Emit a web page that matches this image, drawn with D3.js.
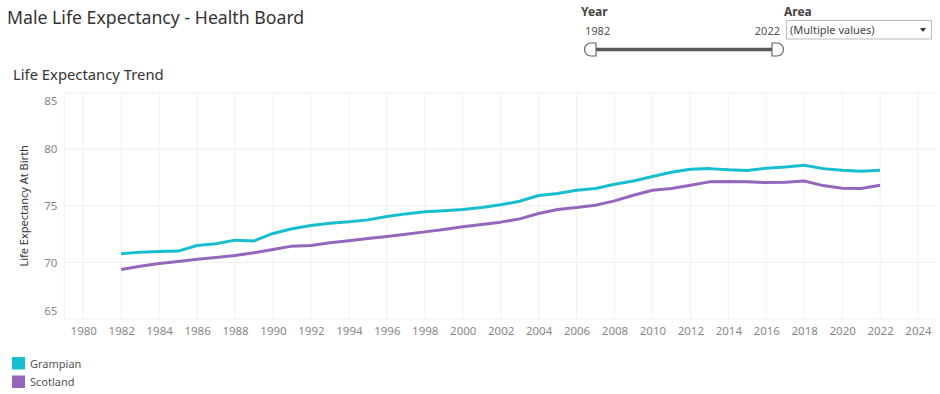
<!DOCTYPE html>
<html>
<head>
<meta charset="utf-8">
<script src="https://cdn.jsdelivr.net/npm/d3@7"></script>
<style>
  html, body { margin: 0; padding: 0; background: #fff; }
  svg { display: block; }
  text { font-family: "Noto Sans", "Open Sans", sans-serif; }
</style>
</head>
<body>
<svg id="chart" width="940" height="394"></svg>
<script>
// ---- data ----
const years = d3.range(1982, 2023);
const grampian = [70.76, 70.91, 70.97, 71.0, 71.5, 71.65, 71.97, 71.9, 72.56, 72.97,
  73.26, 73.47, 73.59, 73.76, 74.06, 74.29, 74.47, 74.56, 74.68, 74.85,
  75.09, 75.41, 75.91, 76.09, 76.38, 76.53, 76.91, 77.2, 77.59, 77.97,
  78.24, 78.29, 78.18, 78.12, 78.33, 78.44, 78.59, 78.29, 78.15, 78.06, 78.15];
const scotland = [69.38, 69.67, 69.91, 70.09, 70.29, 70.44, 70.62, 70.85, 71.15, 71.44,
  71.5, 71.73, 71.91, 72.11, 72.29, 72.5, 72.7, 72.91, 73.15, 73.35,
  73.56, 73.85, 74.32, 74.68, 74.85, 75.06, 75.44, 75.94, 76.38, 76.53,
  76.82, 77.12, 77.15, 77.12, 77.06, 77.09, 77.2, 76.79, 76.56, 76.53, 76.82];
const seriesNames = ["Grampian", "Scotland"];
const seriesColors = ["#17becf", "#9467bd"];
const xTicks = d3.range(1980, 2025, 2);
const yTicks = [65, 70, 75, 80, 85];
const yearRange = [1982, 2022];

const svg = d3.select("#chart");

// titles
svg.append("text").attr("x", 7).attr("y", 24)
  .attr("font-size", 17.7).attr("fill", "#333")
  .text("Male Life Expectancy - Health Board");
svg.append("text").attr("x", 13).attr("y", 80)
  .attr("font-size", 14.8).attr("fill", "#333")
  .text("Life Expectancy Trend");

// scales
const x = d3.scaleLinear().domain([1979, 2025]).range([64.3, 937]);
const y = d3.scaleLinear().domain([65, 85]).range([319, 92.7]);

// gridlines
const g = svg.append("g");
g.selectAll("line.vg").data(xTicks).join("line")
  .attr("x1", d => x(d)).attr("x2", d => x(d))
  .attr("y1", y(85)).attr("y2", y(65))
  .attr("stroke", "#f0f0f0").attr("stroke-width", 1);
g.selectAll("line.hg").data(yTicks).join("line")
  .attr("x1", x(1979)).attr("x2", x(2025))
  .attr("y1", d => y(d)).attr("y2", d => y(d))
  .attr("stroke", "#f0f0f0").attr("stroke-width", 1);
g.append("line").attr("x1", x(1979)).attr("x2", x(1979))
  .attr("y1", y(85)).attr("y2", y(65)).attr("stroke", "#f0f0f0");

// axes
const yAxis = svg.append("g").attr("transform", `translate(${x(1979)},0)`)
  .call(d3.axisLeft(y).tickValues(yTicks).tickSize(0).tickPadding(7));
yAxis.select(".domain").remove();
yAxis.selectAll("text").attr("font-size", 11.5).attr("fill", "#888")
  .attr("font-family", "'Noto Sans', sans-serif")
  .attr("dy", d => d === 85 ? "1.05em" : d === 65 ? "-0.4em" : "0.32em");

const xAxis = svg.append("g").attr("transform", `translate(0,${y(65)})`)
  .call(d3.axisBottom(x).tickValues(xTicks).tickFormat(d3.format("d")).tickSize(0).tickPadding(8));
xAxis.select(".domain").remove();
xAxis.selectAll("text").attr("font-size", 11.5).attr("fill", "#888")
  .attr("font-family", "'Noto Sans', sans-serif");

svg.append("text")
  .attr("transform", `translate(28,${y(75)}) rotate(-90)`)
  .attr("text-anchor", "middle").attr("font-size", 11).attr("fill", "#333")
  .text("Life Expectancy At Birth");

// lines
const line = d3.line().x((d, i) => x(years[i])).y(d => y(d));
[grampian, scotland].forEach((s, k) => {
  svg.append("path").datum(s)
    .attr("fill", "none").attr("stroke", seriesColors[k])
    .attr("stroke-width", 3).attr("stroke-linejoin", "round")
    .attr("d", line);
});

// legend
const leg = svg.append("g");
seriesNames.forEach((n, k) => {
  leg.append("rect").attr("x", 12).attr("y", 357 + k * 18.5)
    .attr("width", 13).attr("height", 12.5).attr("fill", seriesColors[k]);
  leg.append("text").attr("x", 30).attr("y", 367.5 + k * 18.5)
    .attr("font-size", 11).attr("fill", "#555").text(n);
});

// Year slider
svg.append("text").attr("x", 581).attr("y", 16).attr("font-size", 12)
  .attr("font-weight", "bold").attr("fill", "#444").text("Year");
svg.append("text").attr("x", 585).attr("y", 35).attr("font-size", 11)
  .attr("fill", "#555").text(yearRange[0]);
svg.append("text").attr("x", 780).attr("y", 35).attr("font-size", 11)
  .attr("text-anchor", "end").attr("fill", "#555").text(yearRange[1]);
const sx = d3.scaleLinear().domain(yearRange).range([591, 777]);
svg.append("line").attr("x1", sx(yearRange[0])).attr("x2", sx(yearRange[1]))
  .attr("y1", 49.5).attr("y2", 49.5).attr("stroke", "#5a5a5a").attr("stroke-width", 3.5);
// left handle (rounded left, flat right)
const r = 6.5;
svg.append("path")
  .attr("d", `M${sx(yearRange[0]) + 5},${49.5 - r} L${sx(yearRange[0])},${49.5 - r} A${r},${r} 0 0 0 ${sx(yearRange[0])},${49.5 + r} L${sx(yearRange[0]) + 5},${49.5 + r} Z`)
  .attr("fill", "#fff").attr("stroke", "#666").attr("stroke-width", 1.2);
svg.append("path")
  .attr("d", `M${sx(yearRange[1]) - 5},${49.5 - r} L${sx(yearRange[1])},${49.5 - r} A${r},${r} 0 0 1 ${sx(yearRange[1])},${49.5 + r} L${sx(yearRange[1]) - 5},${49.5 + r} Z`)
  .attr("fill", "#fff").attr("stroke", "#666").attr("stroke-width", 1.2);

// Area dropdown
svg.append("text").attr("x", 784).attr("y", 16).attr("font-size", 12)
  .attr("font-weight", "bold").attr("fill", "#444").text("Area");
svg.append("rect").attr("x", 786.5).attr("y", 20.5).attr("width", 145).attr("height", 18.5)
  .attr("fill", "#fff").attr("stroke", "#bbb");
svg.append("text").attr("x", 790).attr("y", 34).attr("font-size", 11)
  .attr("fill", "#444").text("(Multiple values)");
svg.append("path").attr("d", "M920,28 L926,28 L923,32 Z").attr("fill", "#333");
</script>
</body>
</html>
